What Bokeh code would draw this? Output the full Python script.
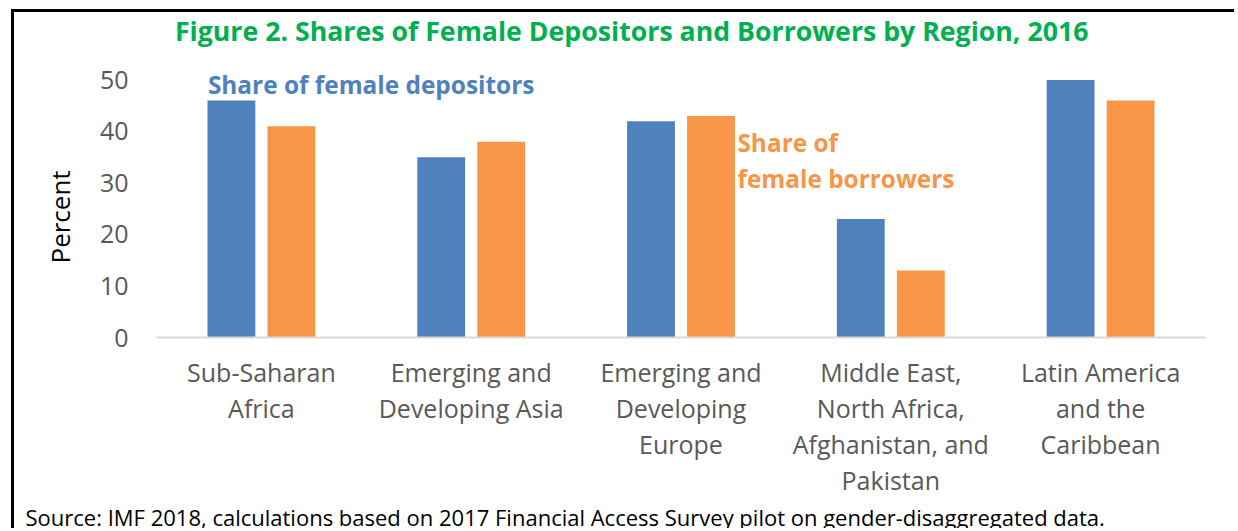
from bokeh.plotting import figure
from bokeh.models import Range1d, FixedTicker, Label, Title
from bokeh.embed import file_html
from bokeh.resources import INLINE

# ---- data ----
regions = [
    "Sub-Saharan\nAfrica",
    "Emerging and\nDeveloping Asia",
    "Emerging and\nDeveloping\nEurope",
    "Middle East,\nNorth Africa,\nAfghanistan, and\nPakistan",
    "Latin America\nand the\nCaribbean",
]
depositors = [46, 35, 42, 23, 50]
borrowers = [41, 38, 43, 13, 46]
y_ticks = [0, 10, 20, 30, 40, 50]

title_text = "Figure 2. Shares of Female Depositors and Borrowers by Region, 2016"
dep_label = "Share of female depositors"
bor_label = ["Share of", "female borrowers"]
y_title = "Percent"
source_text = ("Source: IMF 2018, calculations based on 2017 Financial Access Survey "
               "pilot on gender-disaggregated data.")

BLUE = "#4F81BD"
ORANGE = "#F79646"
GREEN = "#00B050"
GREY = "#595959"
FONT = "Open Sans"

W, H = 1223, 519
p = figure(width=W, height=H, output_backend="svg", toolbar_location=None,
           x_range=Range1d(0, len(regions)), y_range=Range1d(0, 63.1),
           min_border_left=142, min_border_right=32, min_border_top=0,
           min_border_bottom=194)
p.styles = {"border-left": "3px solid black", "border-top": "3px solid black",
            "margin-left": "11px", "margin-top": "9px"}
p.outline_line_color = None
p.xgrid.visible = False
p.ygrid.visible = False
p.background_fill_color = "white"
p.border_fill_color = "white"

centers = [i + 0.5 for i in range(len(regions))]
bw = 0.228
off = 0.143
p.vbar(x=[c - off for c in centers], top=depositors, width=bw, bottom=0,
       fill_color=BLUE, line_color=None)
p.vbar(x=[c + off for c in centers], top=borrowers, width=bw, bottom=0,
       fill_color=ORANGE, line_color=None)

# x axis
xa = p.xaxis[0]
xa.ticker = FixedTicker(ticks=centers)
xa.major_label_overrides = {c: r for c, r in zip(centers, regions)}
xa.axis_line_color = "#D9D9D9"
xa.axis_line_width = 2
xa.major_tick_line_color = None
xa.minor_tick_line_color = None
xa.major_tick_out = 0
xa.major_tick_in = 0
xa.major_label_standoff = 17
xa.major_label_text_font = FONT
xa.major_label_text_font_size = "25px"
xa.major_label_text_color = GREY
xa.major_label_text_line_height = 1.06

# y axis
ya = p.yaxis[0]
ya.ticker = FixedTicker(ticks=y_ticks)
ya.axis_line_color = None
ya.major_tick_line_color = None
ya.minor_tick_line_color = None
ya.major_tick_out = 0
ya.major_tick_in = 0
ya.major_label_standoff = 28
ya.major_label_text_font = FONT
ya.major_label_text_font_size = "25px"
ya.major_label_text_color = GREY

# y title and source as titles in side panels
p.add_layout(Title(text=y_title, align="left", offset=74, standoff=38,
                   text_font=FONT, text_font_style="normal", text_font_size="26px",
                   text_color="black"), "left")
p.add_layout(Title(text=source_text, align="left", offset=-131, standoff=0,
                   text_font=FONT, text_font_style="normal", text_font_size="22px",
                   text_color="black"), "below")

# chart title (inside the frame's upper area)
p.add_layout(Label(x=0.088, y=59.6, text=title_text, text_align="left",
                   text_baseline="middle", text_font=FONT, text_font_style="bold",
                   text_font_size="26.7px", text_color=GREEN))

# in-plot annotations
p.add_layout(Label(x=0.245, y=49.1, text=dep_label, text_align="left",
                   text_baseline="middle", text_font=FONT, text_font_style="bold",
                   text_font_size="24.4px", text_color=BLUE))
for txt, yy in zip(bor_label, [37.9, 30.9]):
    p.add_layout(Label(x=2.769, y=yy, text=txt, text_align="left",
                       text_baseline="middle", text_font=FONT, text_font_style="bold",
                       text_font_size="24.4px", text_color=ORANGE))

open("out.html", "w").write(file_html(p, INLINE))
